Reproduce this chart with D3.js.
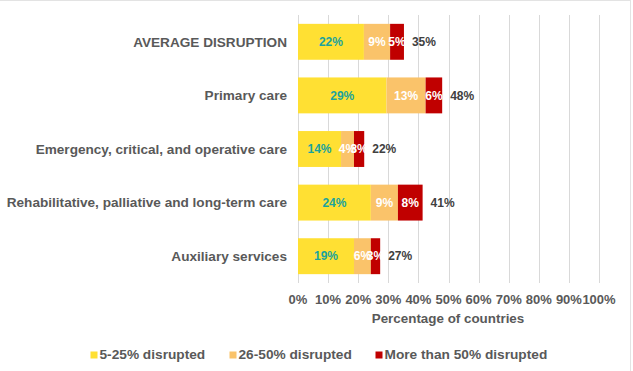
<!DOCTYPE html>
<html>
<head>
<meta charset="utf-8">
<script src="https://cdn.jsdelivr.net/npm/d3@7"></script>
<style>
  body { margin: 0; background: #fff; }
  text { font-family: "Liberation Sans", Arial, sans-serif; font-weight: bold; }
</style>
</head>
<body>
<script>
// Chart data
var categories = [
  "AVERAGE DISRUPTION",
  "Primary care",
  "Emergency, critical, and operative care",
  "Rehabilitative, palliative and long-term care",
  "Auxiliary services"
];
var seriesNames = ["5-25% disrupted", "26-50% disrupted", "More than 50% disrupted"];
var low = [21.9, 29.4, 14.3, 24.2, 18.6];
var mid = [8.7, 13.0, 4.3, 9.0, 5.6];
var high = [4.6, 5.5, 3.4, 8.2, 3.1];
var xTicks = [0, 10, 20, 30, 40, 50, 60, 70, 80, 90, 100];

var colors = ["#FFE033", "#FAC36A", "#C00000"];
var labelColors = ["#1BA39C", "#ffffff", "#ffffff"];

var svgWidth = 633;
var svgHeight = 371;

var svg = d3.select("body")
  .append("svg")
  .attr("width", svgWidth)
  .attr("height", svgHeight);

// light frame
svg.append("line").attr("x1", 0).attr("x2", 631).attr("y1", 0.5).attr("y2", 0.5)
  .attr("stroke", "#e3e3e3");
svg.append("line").attr("x1", 630.5).attr("x2", 630.5).attr("y1", 0).attr("y2", 371)
  .attr("stroke", "#e3e3e3");

var xScale = d3.scaleLinear().domain([0, 100]).range([298, 599]);
var yScale = d3.scaleBand().domain(categories).range([15, 283])
  .paddingInner(0.33).paddingOuter(0.165);

// gridlines
svg.append("g").selectAll("line")
  .data(xTicks)
  .enter()
  .append("line")
  .attr("x1", d => Math.round(xScale(d)) + 0.5)
  .attr("x2", d => Math.round(xScale(d)) + 0.5)
  .attr("y1", 15)
  .attr("y2", 283)
  .attr("stroke", "#d9d9d9");

// build stacked rows
var rows = categories.map(function(c, i) {
  return { cat: c, vals: [low[i], mid[i], high[i]] };
});

var segs = [];
rows.forEach(function(r) {
  var x0 = 0;
  r.vals.forEach(function(v, k) {
    segs.push({ cat: r.cat, k: k, x0: x0, x1: x0 + v, v: v });
    x0 += v;
  });
  r.total = x0;
});

svg.append("g").selectAll("rect")
  .data(segs)
  .enter()
  .append("rect")
  .attr("x", d => xScale(d.x0))
  .attr("y", d => yScale(d.cat))
  .attr("width", d => xScale(d.x1) - xScale(d.x0))
  .attr("height", yScale.bandwidth())
  .attr("fill", d => colors[d.k]);

// segment labels
svg.append("g").selectAll("text")
  .data(segs)
  .enter()
  .append("text")
  .attr("x", d => (xScale(d.x0) + xScale(d.x1)) / 2)
  .attr("y", d => yScale(d.cat) + yScale.bandwidth() / 2)
  .attr("dy", "0.35em")
  .attr("text-anchor", "middle")
  .attr("font-size", "12px")
  .attr("fill", d => labelColors[d.k])
  .text(d => Math.round(d.v) + "%");

// totals
svg.append("g").selectAll("text")
  .data(rows)
  .enter()
  .append("text")
  .attr("x", d => xScale(d.total) + 8)
  .attr("y", d => yScale(d.cat) + yScale.bandwidth() / 2)
  .attr("dy", "0.35em")
  .attr("font-size", "12px")
  .attr("fill", "#404040")
  .text(d => Math.round(d.total) + "%");

// category labels
svg.append("g").selectAll("text")
  .data(categories)
  .enter()
  .append("text")
  .attr("x", 287)
  .attr("y", d => yScale(d) + yScale.bandwidth() / 2)
  .attr("dy", "0.35em")
  .attr("text-anchor", "end")
  .attr("font-size", "13.6px")
  .attr("fill", "#595959")
  .text(d => d);

// x tick labels
svg.append("g").selectAll("text")
  .data(xTicks)
  .enter()
  .append("text")
  .attr("x", d => xScale(d))
  .attr("y", 299)
  .attr("dy", "0.35em")
  .attr("text-anchor", "middle")
  .attr("font-size", "13px")
  .attr("fill", "#595959")
  .text(d => d + "%");

svg.append("text")
  .attr("x", 448)
  .attr("y", 318)
  .attr("dy", "0.35em")
  .attr("text-anchor", "middle")
  .attr("font-size", "13.4px")
  .attr("fill", "#595959")
  .text("Percentage of countries");

// legend
var legendX = [90.5, 229.5, 375.5];
var legend = svg.append("g").selectAll("g")
  .data(seriesNames)
  .enter()
  .append("g")
  .attr("transform", (d, i) => `translate(${legendX[i]}, 355)`);

legend.append("rect")
  .attr("x", 0)
  .attr("y", -3.5)
  .attr("width", 7)
  .attr("height", 7)
  .attr("fill", (d, i) => colors[i]);

legend.append("text")
  .attr("x", 9)
  .attr("y", -0.5)
  .attr("dy", "0.35em")
  .attr("font-size", "13.7px")
  .attr("fill", "#595959")
  .text(d => d);
</script>
</body>
</html>
